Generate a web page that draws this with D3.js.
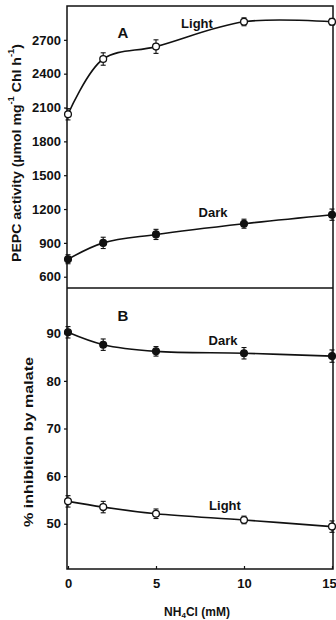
<!DOCTYPE html>
<html>
<head>
<meta charset="utf-8">
<script src="https://cdn.jsdelivr.net/npm/d3@7"></script>
<style>
  html, body { margin: 0; padding: 0; background: #fff; }
  svg { display: block; }
  text { font-family: Arial, "Liberation Sans", Helvetica, sans-serif; fill: #111; }
</style>
</head>
<body>
<svg id="chart" width="336" height="620"></svg>
<script>
// NH4Cl concentration (mM)
const nh4cl = [0, 2, 5, 10, 15];
const xTicks = [0, 5, 10, 15];

// Panel A: PEPC activity (µmol mg-1 Chl h-1)
const activityLight = [2040, 2530, 2640, 2860, 2860];
const activityLightErr = [50, 55, 60, 35, 30];
const activityDark = [755, 900, 975, 1070, 1150];
const activityDarkErr = [40, 50, 45, 40, 50];
const activityTicks = [600, 900, 1200, 1500, 1800, 2100, 2400, 2700];

// Panel B: % inhibition by malate
const inhibDark = [90.2, 87.6, 86.2, 85.8, 85.2];
const inhibDarkErr = [1.2, 1.2, 1.0, 1.2, 1.3];
const inhibLight = [54.7, 53.5, 52.1, 50.8, 49.4];
const inhibLightErr = [1.2, 1.2, 1.0, 0.8, 1.2];
const inhibTicks = [50, 60, 70, 80, 90];

const svg = d3.select("#chart");
const left = 67, right = 333;
const topA = 6, bottomA = 288, bottomB = 569;

const x = d3.scaleLinear().domain([0, 15]).range([left + 1, right - 1]);
const yA = d3.scaleLinear().domain([500, 3000]).range([bottomA, topA]);
const yB = d3.scaleLinear().domain([40.5, 99.5]).range([bottomB, bottomA]);

// Frames
svg.append("rect")
  .attr("x", left).attr("y", topA)
  .attr("width", right - left).attr("height", bottomB - topA)
  .attr("fill", "none").attr("stroke", "#111").attr("stroke-width", 1.5);
svg.append("line")
  .attr("x1", left).attr("x2", right)
  .attr("y1", bottomA).attr("y2", bottomA)
  .attr("stroke", "#111").attr("stroke-width", 1.5);

function yAxis(scale, ticks) {
  const g = svg.append("g").attr("transform", `translate(${left},0)`)
    .call(d3.axisLeft(scale).tickValues(ticks).tickSize(3).tickPadding(3).tickFormat(d3.format("d")));
  g.select(".domain").remove();
  g.selectAll("line").attr("stroke", "#111").attr("stroke-width", 1.2);
  g.selectAll("text").attr("font-size", 13).attr("font-weight", "bold").attr("fill", "#111")
    .style("font-family", "Arial, 'Liberation Sans', sans-serif");
}
yAxis(yA, activityTicks);
yAxis(yB, inhibTicks);

const gx = svg.append("g").attr("transform", `translate(0,${bottomB})`)
  .call(d3.axisBottom(x).tickValues(xTicks).tickSizeInner(-3).tickSizeOuter(0).tickPadding(10));
gx.select(".domain").remove();
gx.selectAll("line").attr("stroke", "#111").attr("stroke-width", 1.2);
gx.selectAll("text").attr("font-size", 13).attr("font-weight", "bold").attr("fill", "#111")
  .style("font-family", "Arial, 'Liberation Sans', sans-serif")
  .attr("dx", d => d === 15 ? -3 : 0);

// Series drawing
function series(scale, values, errs, filled) {
  const pts = nh4cl.map((d, i) => ({ x: d, y: values[i], e: errs[i] }));
  const line = d3.line().x(d => x(d.x)).y(d => scale(d.y)).curve(d3.curveCatmullRom.alpha(0.5));
  svg.append("path").datum(pts).attr("d", line)
    .attr("fill", "none").attr("stroke", "#111").attr("stroke-width", 1.6);
  const g = svg.append("g");
  const eb = g.selectAll("g.eb").data(pts).join("g");
  eb.append("line")
    .attr("x1", d => x(d.x)).attr("x2", d => x(d.x))
    .attr("y1", d => scale(d.y - d.e)).attr("y2", d => scale(d.y + d.e))
    .attr("stroke", "#111").attr("stroke-width", 1.1);
  [-1, 1].forEach(s => {
    eb.append("line")
      .attr("x1", d => x(d.x) - 2.5).attr("x2", d => x(d.x) + 2.5)
      .attr("y1", d => scale(d.y + s * d.e)).attr("y2", d => scale(d.y + s * d.e))
      .attr("stroke", "#111").attr("stroke-width", 1.1);
  });
  g.selectAll("circle").data(pts).join("circle")
    .attr("cx", d => x(d.x)).attr("cy", d => scale(d.y)).attr("r", 3.4)
    .attr("fill", filled ? "#111" : "#fff").attr("stroke", "#111").attr("stroke-width", 1.3);
}
series(yA, activityLight, activityLightErr, false);
series(yA, activityDark, activityDarkErr, true);
series(yB, inhibDark, inhibDarkErr, true);
series(yB, inhibLight, inhibLightErr, false);

// Annotations
function label(t, px, py, size) {
  svg.append("text").attr("x", px).attr("y", py).attr("text-anchor", "middle")
    .attr("dominant-baseline", "central").attr("font-size", size).attr("font-weight", "bold").text(t);
}
label("A", 123, 32, 15);
label("Light", 197, 23, 13);
label("Dark", 213, 212, 13);
label("B", 123, 315, 15);
label("Dark", 223, 340, 13);
label("Light", 225, 505, 13);

// Axis titles
const tA = svg.append("text")
  .attr("transform", `translate(16,153) rotate(-90)`)
  .attr("text-anchor", "middle").attr("dominant-baseline", "central")
  .attr("font-size", 13.5).attr("font-weight", "bold")
  .attr("textLength", 218).attr("lengthAdjust", "spacingAndGlyphs");
tA.append("tspan").text("PEPC activity (µmol mg");
tA.append("tspan").attr("font-size", 9).attr("dy", -5).text("-1");
tA.append("tspan").attr("dy", 5).text(" Chl h");
tA.append("tspan").attr("font-size", 9).attr("dy", -5).text("-1");
tA.append("tspan").attr("dy", 5).text(")");

svg.append("text")
  .attr("transform", `translate(28,442) rotate(-90)`)
  .attr("text-anchor", "middle").attr("dominant-baseline", "central")
  .attr("font-size", 13.5).attr("font-weight", "bold")
  .attr("textLength", 170).attr("lengthAdjust", "spacingAndGlyphs")
  .text("% inhibition by malate");

const tX = svg.append("text").attr("x", 197).attr("y", 612)
  .attr("text-anchor", "middle").attr("dominant-baseline", "central")
  .attr("font-size", 12).attr("font-weight", "bold");
tX.append("tspan").text("NH");
tX.append("tspan").attr("font-size", 8).attr("dy", 3).text("4");
tX.append("tspan").attr("dy", -3).text("Cl (mM)");
</script>
</body>
</html>
